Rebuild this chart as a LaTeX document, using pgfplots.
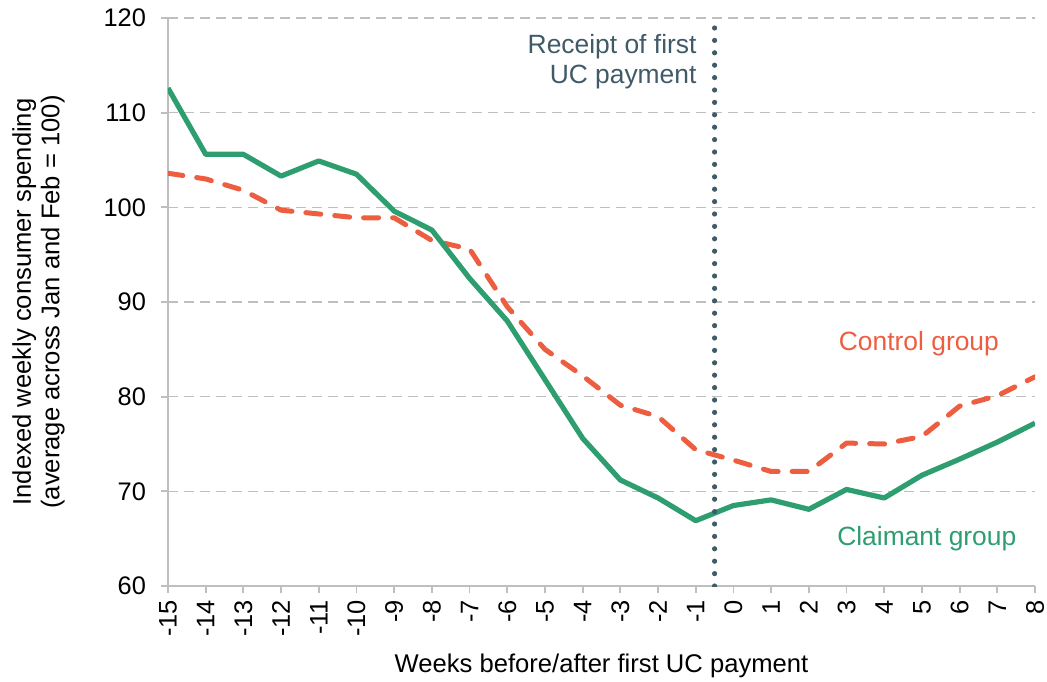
\documentclass[border=0pt]{standalone}
\usepackage{fontspec}
\setmainfont{Liberation Sans}
\usepackage{pgfplots}
\pgfplotsset{compat=1.18}
\definecolor{claimgreen}{RGB}{46,158,112}
\definecolor{ctrlred}{RGB}{237,94,64}
\definecolor{ucslate}{RGB}{64,90,104}
\definecolor{gridgrey}{RGB}{191,191,191}

\begin{document}
\begin{tikzpicture}
\begin{axis}[
    scale only axis,
    width=433.5pt, height=284pt,
    xmin=-15, xmax=8, ymin=60, ymax=120,
    xtick={-15,-14,...,8}, ytick={60,70,...,120},
    axis x line*=bottom, axis y line*=left,
    axis line style={gridgrey, line width=0.9pt},
    tick align=outside, major tick length=3.5pt,
    tick style={gridgrey, line width=0.9pt},
    ymajorgrids,
    grid style={gridgrey, line width=0.75pt, dash pattern=on 5pt off 3pt},
    /pgf/number format/assume math mode=true,
    tick label style={font=\fontsize{12.7}{14}\selectfont, black},
    xticklabel style={rotate=90, anchor=east},
    yticklabel style={xshift=-4pt},
    xlabel={Weeks before/after first UC payment},
    xlabel style={at={(axis description cs:0.5,-0.1526)}, anchor=base,
        font=\fontsize{12.8}{14}\selectfont},
    ylabel={Indexed weekly consumer spending\\(average across Jan and Feb = 100)},
    ylabel style={at={(axis description cs:-0.18,0.5)}, anchor=north,
        align=center, inner sep=0pt, font=\fontsize{12.8}{14.2}\selectfont},
]
% control group
\addplot[ctrlred, line width=2.5pt, line cap=round, line join=round,
    dash pattern=on 7.5pt off 7pt] coordinates {
    (-15,103.6) (-14,103.0) (-13,101.8) (-12,99.7) (-11,99.3) (-10,98.9)
    (-9,98.9) (-8,96.5) (-7,95.6) (-6,89.5) (-5,85.0) (-4,82.2)
    (-3,79.1) (-2,77.9) (-1,74.4) (0,73.3) (1,72.1) (2,72.1)
    (3,75.1) (4,75.0) (5,75.8) (6,79.0) (7,80.1) (8,82.1)
};
% claimant group
\addplot[claimgreen, line width=2.6pt, line join=round] coordinates {
    (-15,112.6) (-14,105.6) (-13,105.6) (-12,103.3) (-11,104.9) (-10,103.5)
    (-9,99.6) (-8,97.6) (-7,92.5) (-6,88.0) (-5,81.8) (-4,75.6)
    (-3,71.2) (-2,69.3) (-1,66.9) (0,68.5) (1,69.1) (2,68.1)
    (3,70.2) (4,69.3) (5,71.7) (6,73.4) (7,75.2) (8,77.2)
};
% first UC payment
\addplot[ucslate, line width=2.6pt, line cap=round,
    dash pattern=on 0pt off 6.2pt] coordinates {(-0.5,60) (-0.5,120)};

\node[anchor=base east, inner sep=0pt, text=ucslate,
    font=\fontsize{13.2}{15}\selectfont] at (axis cs:-0.97,116.27) {Receipt of first};
\node[anchor=base east, inner sep=0pt, text=ucslate,
    font=\fontsize{13.2}{15}\selectfont] at (axis cs:-0.97,113.1) {UC payment};
\node[anchor=base, inner sep=0pt, text=ctrlred,
    font=\fontsize{13.2}{15}\selectfont] at (axis cs:4.92,84.93) {Control group};
\node[anchor=base, inner sep=0pt, text=claimgreen,
    font=\fontsize{13.2}{15}\selectfont] at (axis cs:5.13,64.33) {Claimant group};
\end{axis}
\pgfresetboundingbox
\path ([shift={(-84pt,-47.5pt)}]current axis.south west)
    rectangle ([shift={(439.5pt,293pt)}]current axis.south west);
\end{tikzpicture}
\end{document}
